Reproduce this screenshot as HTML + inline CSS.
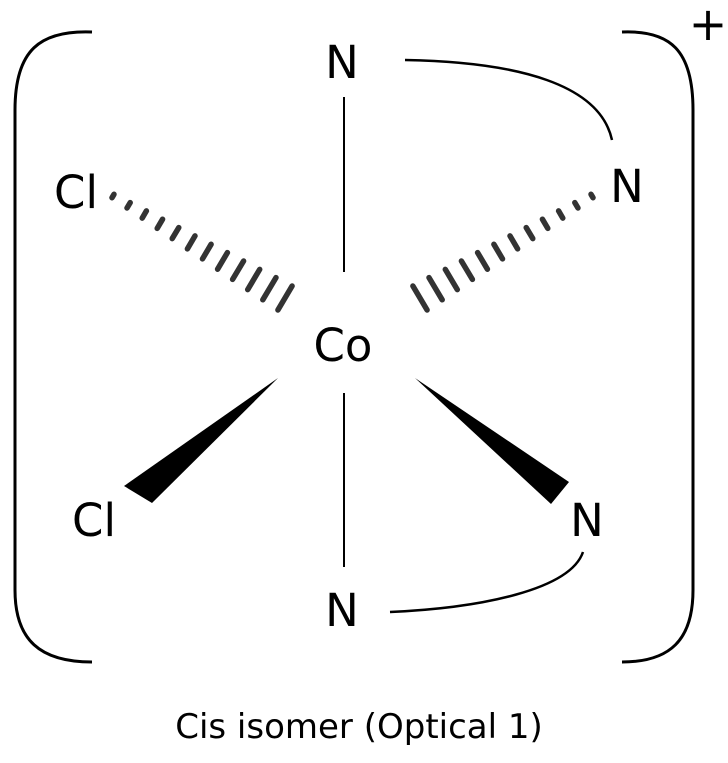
<!DOCTYPE html>
<html><head><style>html,body{margin:0;padding:0;background:#fff}</style></head>
<body>
<svg width="728" height="758" xmlns="http://www.w3.org/2000/svg" font-family="'DejaVu Sans','Liberation Sans',sans-serif" fill="#000">
<rect width="728" height="758" fill="#fff"/>
<g fill="none" stroke="#000" stroke-width="3">
<path d="M92,32 C40,30 15,50 15,110 L15,590 C15,640 40,662 92,662"/>
<path d="M622,32 C670,30 693,50 693,110 L693,590 C693,640 670,662 622,662"/>
<path d="M405,60 C520,62 600,85 612,140" stroke-width="2.5"/>
<path d="M390,612 C480,608 570,590 583,552" stroke-width="2.5"/>
<line x1="344" y1="97" x2="344" y2="272" stroke-width="2"/>
<line x1="344" y1="393" x2="344" y2="567" stroke-width="2"/>
</g>
<g id="h" stroke="#333" stroke-width="5.5" stroke-linecap="round">
<line x1="114" y1="194.3" x2="112" y2="197.7"/>
<line x1="130.2" y1="202.6" x2="127" y2="208"/>
<line x1="146.4" y1="210.9" x2="142.2" y2="218.1"/>
<line x1="162.6" y1="219.2" x2="157.2" y2="228.4"/>
<line x1="178.8" y1="227.6" x2="172.2" y2="238.6"/>
<line x1="195" y1="235.9" x2="187.4" y2="248.9"/>
<line x1="211.1" y1="244.3" x2="202.5" y2="258.9"/>
<line x1="227.4" y1="252.6" x2="217.6" y2="269.2"/>
<line x1="243.6" y1="261" x2="232.6" y2="279.4"/>
<line x1="259.7" y1="269.4" x2="247.7" y2="289.6"/>
<line x1="276" y1="277.6" x2="262.8" y2="299.8"/>
<line x1="292.1" y1="286" x2="277.9" y2="310"/>
</g>
<use href="#h" transform="translate(705,0) scale(-1,1)"/>
<polygon points="278,378 124,486 152,503"/>
<polygon points="415,378 569,482 551,504"/>
<g font-size="45" text-anchor="middle">
<text x="342" y="78">N</text>
<text x="76" y="208">Cl</text>
<text x="627" y="202">N</text>
<text x="343" y="361">Co</text>
<text x="94" y="536">Cl</text>
<text x="587" y="536">N</text>
<text x="342" y="626">N</text>
</g>
<text x="708" y="40" font-size="46" text-anchor="middle">+</text>
<text x="359" y="738" font-size="34" text-anchor="middle">Cis isomer (Optical 1)</text>
</svg>
</body></html>
